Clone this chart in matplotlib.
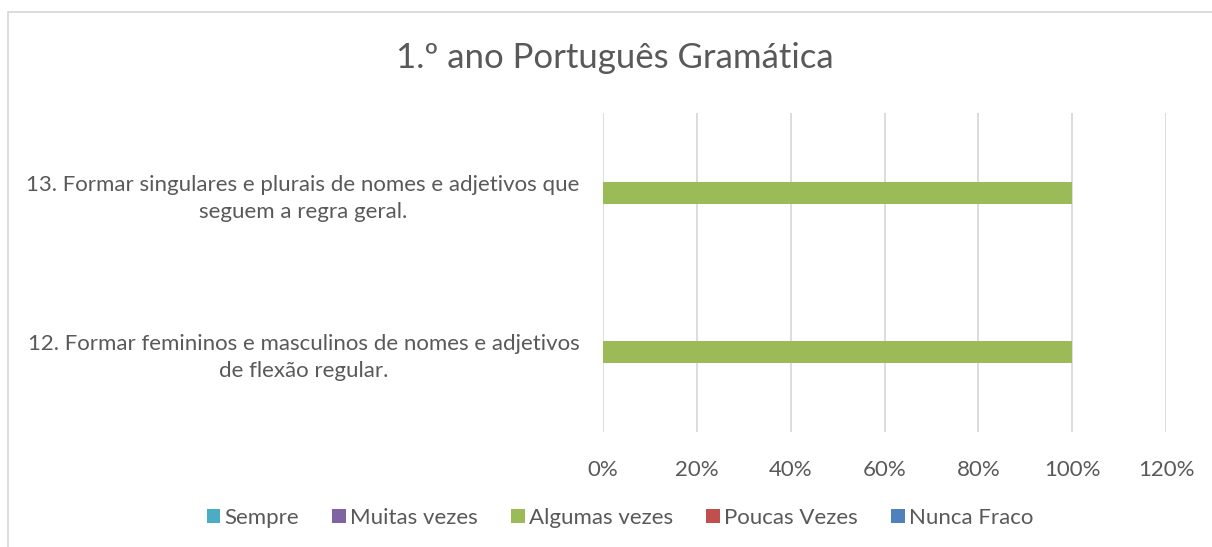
import matplotlib
matplotlib.use("Agg")
import matplotlib.pyplot as plt
from matplotlib.patches import Rectangle
import numpy as np

categories = ["12. Formar femininos e masculinos de nomes e adjetivos\nde flexão regular.",
              "13. Formar singulares e plurais de nomes e adjetivos que\nseguem a regra geral."]
series_names = ["Sempre", "Muitas vezes", "Algumas vezes", "Poucas Vezes", "Nunca Fraco"]
sempre = [0, 0]
muitas = [0, 0]
algumas = [100, 100]
poucas = [0, 0]
nunca = [0, 0]
series_values = [sempre, muitas, algumas, poucas, nunca]
colors = ["#4BACC6", "#8064A2", "#9BBB59", "#C0504D", "#4F81BD"]
xticks = [0, 20, 40, 60, 80, 100, 120]
title = "1.º ano Português Gramática"

plt.rcParams['font.family'] = ['Lato', 'DejaVu Sans']
text_color = "#595959"

fig = plt.figure(figsize=(12.12, 5.47), dpi=100)
ax = fig.add_axes([603/1212, 1-432/547, (1166-603)/1212, (432-113)/547])

y = np.arange(len(categories))
left = np.zeros(len(categories))
for name, vals, c in zip(series_names, series_values, colors):
    ax.barh(y, vals, left=left, height=0.137, color=c, label=name, zorder=3)
    left = left + np.array(vals)

ax.set_xlim(0, 120)
ax.set_ylim(-0.5, 1.5)
ax.set_xticks(xticks)
ax.set_xticklabels([f"{t}%" for t in xticks], fontsize=16, color=text_color)
ax.set_yticks(y)
ax.set_yticklabels(categories, fontsize=16, color=text_color, multialignment='center',
                   linespacing=1.45)
ax.tick_params(axis='both', length=0)
ax.tick_params(axis='x', pad=20)
ax.tick_params(axis='y', pad=17)
ax.grid(axis='x', color="#D9D9D9", linewidth=1.3, zorder=0)
for s in ax.spines.values():
    s.set_visible(False)

fig.text(615/1212, 1-58/547, title, ha='center', va='center', fontsize=25, color=text_color)

leg = fig.legend(loc='center', bbox_to_anchor=(620/1212, 1-518/547), ncol=5, frameon=False,
                 fontsize=16, handlelength=0.6, handleheight=0.6, handletextpad=0.2,
                 columnspacing=1.5)
for t in leg.get_texts():
    t.set_color(text_color)

fig.patches.append(Rectangle((8/1212, -0.05), 1.1, 1-12/547+0.05, transform=fig.transFigure,
                             fill=False, edgecolor="#D9D9D9", linewidth=1.3))

fig.savefig("out.png", dpi=100, facecolor='white')
